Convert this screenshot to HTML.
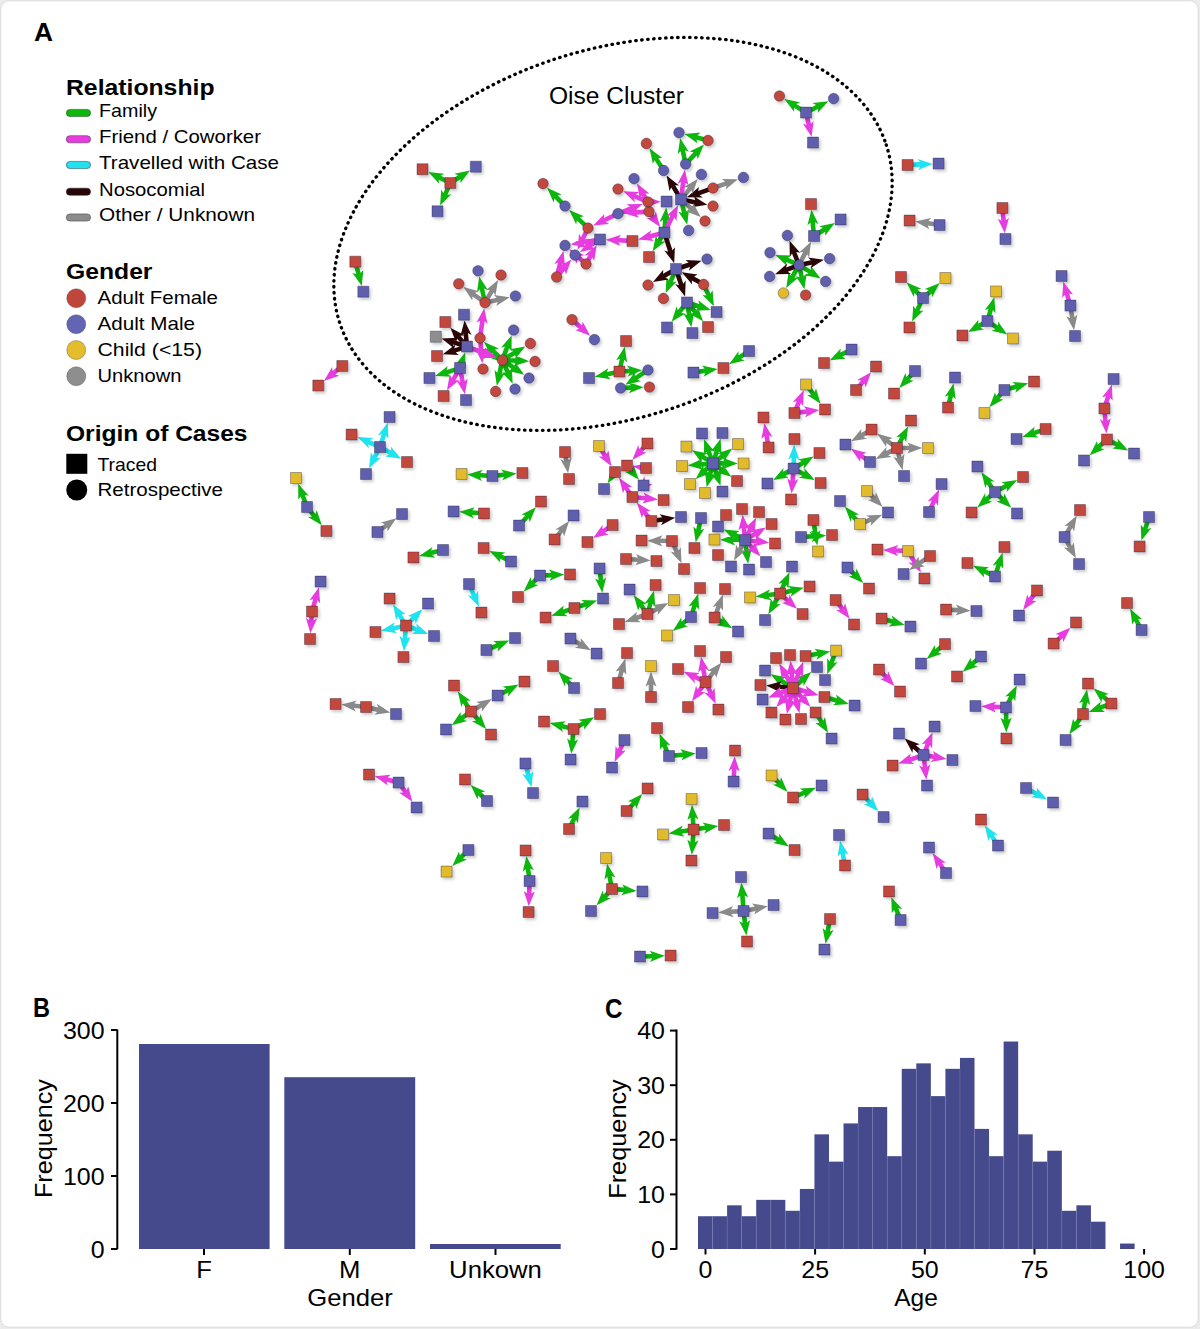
<!DOCTYPE html><html><head><meta charset="utf-8"><style>html,body{margin:0;padding:0;background:#fff;}svg{display:block;font-family:"Liberation Sans",sans-serif;}</style></head><body>
<svg width="1200" height="1329" viewBox="0 0 1200 1329">
<rect x="0" y="0" width="1200" height="1329" fill="#ececec"/>
<rect x="0.8" y="0.8" width="1197.4" height="1326.4" rx="8" fill="#fff" stroke="#dadada" stroke-width="1"/>
<text x="34" y="40.5" font-size="26" font-weight="bold" text-anchor="start" fill="#000" textLength="19" lengthAdjust="spacingAndGlyphs">A</text>
<text x="66" y="94.5" font-size="21.5" font-weight="bold" text-anchor="start" fill="#000" textLength="148.5" lengthAdjust="spacingAndGlyphs">Relationship</text>
<rect x="66.3" y="109.4" width="24.3" height="7.2" rx="3.6" fill="#0cb80c" stroke="#222" stroke-opacity="0.5" stroke-width="0.9"/>
<text x="99" y="116.9" font-size="19" text-anchor="start" fill="#000" textLength="58" lengthAdjust="spacingAndGlyphs">Family</text>
<rect x="66.3" y="135.65" width="24.3" height="7.2" rx="3.6" fill="#e83ce0" stroke="#222" stroke-opacity="0.5" stroke-width="0.9"/>
<text x="99" y="143.15" font-size="19" text-anchor="start" fill="#000" textLength="162" lengthAdjust="spacingAndGlyphs">Friend / Coworker</text>
<rect x="66.3" y="161.4" width="24.3" height="7.2" rx="3.6" fill="#22e0ee" stroke="#222" stroke-opacity="0.5" stroke-width="0.9"/>
<text x="99" y="168.9" font-size="19" text-anchor="start" fill="#000" textLength="180" lengthAdjust="spacingAndGlyphs">Travelled with Case</text>
<rect x="66.3" y="188.15" width="24.3" height="7.2" rx="3.6" fill="#2a0505" stroke="#222" stroke-opacity="0.5" stroke-width="0.9"/>
<text x="99" y="195.65" font-size="19" text-anchor="start" fill="#000" textLength="106" lengthAdjust="spacingAndGlyphs">Nosocomial</text>
<rect x="66.3" y="213.9" width="24.3" height="7.2" rx="3.6" fill="#8c8c8c" stroke="#222" stroke-opacity="0.5" stroke-width="0.9"/>
<text x="99" y="221.4" font-size="19" text-anchor="start" fill="#000" textLength="156" lengthAdjust="spacingAndGlyphs">Other / Unknown</text>
<text x="66" y="278.75" font-size="21.5" font-weight="bold" text-anchor="start" fill="#000" textLength="86.5" lengthAdjust="spacingAndGlyphs">Gender</text>
<circle cx="76.25" cy="298.25" r="9.5" fill="#c0463c" stroke="#444" stroke-opacity="0.45" stroke-width="0.8"/>
<text x="97.5" y="303.95" font-size="19" text-anchor="start" fill="#000" textLength="120.5" lengthAdjust="spacingAndGlyphs">Adult Female</text>
<circle cx="76.25" cy="324.25" r="9.5" fill="#6464b4" stroke="#444" stroke-opacity="0.45" stroke-width="0.8"/>
<text x="97.5" y="329.95" font-size="19" text-anchor="start" fill="#000" textLength="97.5" lengthAdjust="spacingAndGlyphs">Adult Male</text>
<circle cx="76.25" cy="350" r="9.5" fill="#e3bd2c" stroke="#444" stroke-opacity="0.45" stroke-width="0.8"/>
<text x="97.5" y="355.7" font-size="19" text-anchor="start" fill="#000" textLength="104.5" lengthAdjust="spacingAndGlyphs">Child (&lt;15)</text>
<circle cx="76.25" cy="376.25" r="9.5" fill="#8e8e8e" stroke="#444" stroke-opacity="0.45" stroke-width="0.8"/>
<text x="97.5" y="381.95" font-size="19" text-anchor="start" fill="#000" textLength="84" lengthAdjust="spacingAndGlyphs">Unknown</text>
<text x="66" y="440.5" font-size="21.5" font-weight="bold" text-anchor="start" fill="#000" textLength="181.5" lengthAdjust="spacingAndGlyphs">Origin of Cases</text>
<rect x="66.3" y="453.8" width="21" height="20" fill="#000"/>
<text x="97.5" y="470.5" font-size="18.5" text-anchor="start" fill="#000" textLength="59.5" lengthAdjust="spacingAndGlyphs">Traced</text>
<circle cx="76.75" cy="490" r="10.5" fill="#000"/>
<text x="97.5" y="496.25" font-size="18.5" text-anchor="start" fill="#000" textLength="125.5" lengthAdjust="spacingAndGlyphs">Retrospective</text>
<text x="33" y="1017" font-size="27.5" font-weight="bold" text-anchor="start" fill="#000" textLength="17" lengthAdjust="spacingAndGlyphs">B</text>
<path d="M117.3 1029.5 V1249.2" stroke="#000" stroke-width="2" fill="none"/>
<path d="M111 1249.0 H117.3" stroke="#000" stroke-width="2"/>
<text x="104.6" y="1257.6" font-size="24" text-anchor="end" fill="#000" textLength="13.88" lengthAdjust="spacingAndGlyphs">0</text>
<path d="M111 1176.0 H117.3" stroke="#000" stroke-width="2"/>
<text x="104.6" y="1184.6" font-size="24" text-anchor="end" fill="#000" textLength="41.64" lengthAdjust="spacingAndGlyphs">100</text>
<path d="M111 1103.0 H117.3" stroke="#000" stroke-width="2"/>
<text x="104.6" y="1111.6" font-size="24" text-anchor="end" fill="#000" textLength="41.64" lengthAdjust="spacingAndGlyphs">200</text>
<path d="M111 1030.0 H117.3" stroke="#000" stroke-width="2"/>
<text x="104.6" y="1038.6" font-size="24" text-anchor="end" fill="#000" textLength="41.64" lengthAdjust="spacingAndGlyphs">300</text>
<rect x="139" y="1044" width="130.6" height="205" fill="#454a8c"/>
<rect x="284.3" y="1077.2" width="130.9" height="171.8" fill="#454a8c"/>
<rect x="430" y="1244" width="130.7" height="5" fill="#454a8c"/>
<path d="M204 1249 V1255" stroke="#000" stroke-width="2"/>
<text x="204" y="1278" font-size="24" text-anchor="middle" fill="#000" textLength="15.69" lengthAdjust="spacingAndGlyphs">F</text>
<path d="M349.8 1249 V1255" stroke="#000" stroke-width="2"/>
<text x="349.8" y="1278" font-size="24" text-anchor="middle" fill="#000" textLength="21.39" lengthAdjust="spacingAndGlyphs">M</text>
<path d="M495.5 1249 V1255" stroke="#000" stroke-width="2"/>
<text x="495.5" y="1278" font-size="24" text-anchor="middle" fill="#000" textLength="92.78" lengthAdjust="spacingAndGlyphs">Unkown</text>
<text x="350" y="1306" font-size="24" text-anchor="middle" fill="#000" textLength="85.65" lengthAdjust="spacingAndGlyphs">Gender</text>
<text x="0" y="0" font-size="23.5" text-anchor="middle" textLength="119" lengthAdjust="spacingAndGlyphs" transform="translate(51.5 1138.6) rotate(-90)">Frequency</text>
<text x="605" y="1017.5" font-size="27.5" font-weight="bold" text-anchor="start" fill="#000" textLength="17.5" lengthAdjust="spacingAndGlyphs">C</text>
<path d="M676.5 1029.5 V1249.5" stroke="#000" stroke-width="2" fill="none"/>
<path d="M670 1249.0 H676.5" stroke="#000" stroke-width="2"/>
<text x="665" y="1257.6" font-size="24" text-anchor="end" fill="#000" textLength="13.88" lengthAdjust="spacingAndGlyphs">0</text>
<path d="M670 1194.4 H676.5" stroke="#000" stroke-width="2"/>
<text x="665" y="1203.0" font-size="24" text-anchor="end" fill="#000" textLength="27.76" lengthAdjust="spacingAndGlyphs">10</text>
<path d="M670 1139.8 H676.5" stroke="#000" stroke-width="2"/>
<text x="665" y="1148.3999999999999" font-size="24" text-anchor="end" fill="#000" textLength="27.76" lengthAdjust="spacingAndGlyphs">20</text>
<path d="M670 1085.2 H676.5" stroke="#000" stroke-width="2"/>
<text x="665" y="1093.8" font-size="24" text-anchor="end" fill="#000" textLength="27.76" lengthAdjust="spacingAndGlyphs">30</text>
<path d="M670 1030.6 H676.5" stroke="#000" stroke-width="2"/>
<text x="665" y="1039.1999999999998" font-size="24" text-anchor="end" fill="#000" textLength="27.76" lengthAdjust="spacingAndGlyphs">40</text>
<rect x="698.00" y="1216.24" width="14.55" height="32.76" fill="#454a8c"/>
<rect x="712.55" y="1216.24" width="14.55" height="32.76" fill="#454a8c"/>
<rect x="727.11" y="1205.32" width="14.55" height="43.68" fill="#454a8c"/>
<rect x="741.66" y="1216.24" width="14.55" height="32.76" fill="#454a8c"/>
<rect x="756.21" y="1199.86" width="14.55" height="49.14" fill="#454a8c"/>
<rect x="770.77" y="1199.86" width="14.55" height="49.14" fill="#454a8c"/>
<rect x="785.32" y="1210.78" width="14.55" height="38.22" fill="#454a8c"/>
<rect x="799.87" y="1188.94" width="14.55" height="60.06" fill="#454a8c"/>
<rect x="814.43" y="1134.34" width="14.55" height="114.66" fill="#454a8c"/>
<rect x="828.98" y="1161.64" width="14.55" height="87.36" fill="#454a8c"/>
<rect x="843.53" y="1123.42" width="14.55" height="125.58" fill="#454a8c"/>
<rect x="858.09" y="1107.04" width="14.55" height="141.96" fill="#454a8c"/>
<rect x="872.64" y="1107.04" width="14.55" height="141.96" fill="#454a8c"/>
<rect x="887.19" y="1156.18" width="14.55" height="92.82" fill="#454a8c"/>
<rect x="901.75" y="1068.82" width="14.55" height="180.18" fill="#454a8c"/>
<rect x="916.30" y="1063.36" width="14.55" height="185.64" fill="#454a8c"/>
<rect x="930.85" y="1096.12" width="14.55" height="152.88" fill="#454a8c"/>
<rect x="945.41" y="1068.82" width="14.55" height="180.18" fill="#454a8c"/>
<rect x="959.96" y="1057.90" width="14.55" height="191.10" fill="#454a8c"/>
<rect x="974.51" y="1128.88" width="14.55" height="120.12" fill="#454a8c"/>
<rect x="989.07" y="1156.18" width="14.55" height="92.82" fill="#454a8c"/>
<rect x="1003.62" y="1041.52" width="14.55" height="207.48" fill="#454a8c"/>
<rect x="1018.17" y="1134.34" width="14.55" height="114.66" fill="#454a8c"/>
<rect x="1032.73" y="1161.64" width="14.55" height="87.36" fill="#454a8c"/>
<rect x="1047.28" y="1150.72" width="14.55" height="98.28" fill="#454a8c"/>
<rect x="1061.83" y="1210.78" width="14.55" height="38.22" fill="#454a8c"/>
<rect x="1076.39" y="1205.32" width="14.55" height="43.68" fill="#454a8c"/>
<rect x="1090.94" y="1221.70" width="14.55" height="27.30" fill="#454a8c"/>
<rect x="1120.05" y="1243.54" width="14.55" height="5.46" fill="#454a8c"/>
<path d="M712.55 1216.24 V1249" stroke="#7a7fb8" stroke-width="0.6" stroke-opacity="0.6"/>
<path d="M727.11 1216.24 V1249" stroke="#7a7fb8" stroke-width="0.6" stroke-opacity="0.6"/>
<path d="M741.66 1216.24 V1249" stroke="#7a7fb8" stroke-width="0.6" stroke-opacity="0.6"/>
<path d="M756.21 1216.24 V1249" stroke="#7a7fb8" stroke-width="0.6" stroke-opacity="0.6"/>
<path d="M770.77 1199.86 V1249" stroke="#7a7fb8" stroke-width="0.6" stroke-opacity="0.6"/>
<path d="M785.32 1210.78 V1249" stroke="#7a7fb8" stroke-width="0.6" stroke-opacity="0.6"/>
<path d="M799.87 1210.78 V1249" stroke="#7a7fb8" stroke-width="0.6" stroke-opacity="0.6"/>
<path d="M814.43 1188.94 V1249" stroke="#7a7fb8" stroke-width="0.6" stroke-opacity="0.6"/>
<path d="M828.98 1161.64 V1249" stroke="#7a7fb8" stroke-width="0.6" stroke-opacity="0.6"/>
<path d="M843.53 1161.64 V1249" stroke="#7a7fb8" stroke-width="0.6" stroke-opacity="0.6"/>
<path d="M858.09 1123.42 V1249" stroke="#7a7fb8" stroke-width="0.6" stroke-opacity="0.6"/>
<path d="M872.64 1107.04 V1249" stroke="#7a7fb8" stroke-width="0.6" stroke-opacity="0.6"/>
<path d="M887.19 1156.18 V1249" stroke="#7a7fb8" stroke-width="0.6" stroke-opacity="0.6"/>
<path d="M901.75 1156.18 V1249" stroke="#7a7fb8" stroke-width="0.6" stroke-opacity="0.6"/>
<path d="M916.30 1068.82 V1249" stroke="#7a7fb8" stroke-width="0.6" stroke-opacity="0.6"/>
<path d="M930.85 1096.12 V1249" stroke="#7a7fb8" stroke-width="0.6" stroke-opacity="0.6"/>
<path d="M945.41 1096.12 V1249" stroke="#7a7fb8" stroke-width="0.6" stroke-opacity="0.6"/>
<path d="M959.96 1068.82 V1249" stroke="#7a7fb8" stroke-width="0.6" stroke-opacity="0.6"/>
<path d="M974.51 1128.88 V1249" stroke="#7a7fb8" stroke-width="0.6" stroke-opacity="0.6"/>
<path d="M989.07 1156.18 V1249" stroke="#7a7fb8" stroke-width="0.6" stroke-opacity="0.6"/>
<path d="M1003.62 1156.18 V1249" stroke="#7a7fb8" stroke-width="0.6" stroke-opacity="0.6"/>
<path d="M1018.17 1134.34 V1249" stroke="#7a7fb8" stroke-width="0.6" stroke-opacity="0.6"/>
<path d="M1032.73 1161.64 V1249" stroke="#7a7fb8" stroke-width="0.6" stroke-opacity="0.6"/>
<path d="M1047.28 1161.64 V1249" stroke="#7a7fb8" stroke-width="0.6" stroke-opacity="0.6"/>
<path d="M1061.83 1210.78 V1249" stroke="#7a7fb8" stroke-width="0.6" stroke-opacity="0.6"/>
<path d="M1076.39 1210.78 V1249" stroke="#7a7fb8" stroke-width="0.6" stroke-opacity="0.6"/>
<path d="M1090.94 1221.70 V1249" stroke="#7a7fb8" stroke-width="0.6" stroke-opacity="0.6"/>
<path d="M705.5 1249 V1254.5" stroke="#000" stroke-width="2"/>
<text x="705.5" y="1278" font-size="24" text-anchor="middle" fill="#000" textLength="13.88" lengthAdjust="spacingAndGlyphs">0</text>
<path d="M815.1 1249 V1254.5" stroke="#000" stroke-width="2"/>
<text x="815.15" y="1278" font-size="24" text-anchor="middle" fill="#000" textLength="27.76" lengthAdjust="spacingAndGlyphs">25</text>
<path d="M924.8 1249 V1254.5" stroke="#000" stroke-width="2"/>
<text x="924.8" y="1278" font-size="24" text-anchor="middle" fill="#000" textLength="27.76" lengthAdjust="spacingAndGlyphs">50</text>
<path d="M1034.5 1249 V1254.5" stroke="#000" stroke-width="2"/>
<text x="1034.45" y="1278" font-size="24" text-anchor="middle" fill="#000" textLength="27.76" lengthAdjust="spacingAndGlyphs">75</text>
<path d="M1144.1 1249 V1254.5" stroke="#000" stroke-width="2"/>
<text x="1144.1" y="1278" font-size="24" text-anchor="middle" fill="#000" textLength="41.64" lengthAdjust="spacingAndGlyphs">100</text>
<text x="916" y="1305.5" font-size="24" text-anchor="middle" fill="#000" textLength="43.56" lengthAdjust="spacingAndGlyphs">Age</text>
<text x="0" y="0" font-size="23.5" text-anchor="middle" textLength="119.5" lengthAdjust="spacingAndGlyphs" transform="translate(626 1139) rotate(-90)">Frequency</text>
<defs><filter id="sh" x="-50%" y="-50%" width="200%" height="200%"><feDropShadow dx="1.8" dy="2.2" stdDeviation="1.8" flood-color="#000" flood-opacity="0.22"/></filter></defs>
<ellipse cx="613" cy="233.9" rx="287.4" ry="184.2" transform="rotate(-18.05 613 233.9)" fill="none" stroke="#000" stroke-width="3.3" stroke-dasharray="0.5 5.5" stroke-linecap="round"/>
<g>
<path d="M428.3 172.1 L444.2 173.7 L440.8 175.7 L449.7 180.1 L447.6 184.2 L438.7 179.8 L439.2 183.7Z M470.0 170.4 L460.4 183.2 L460.5 179.2 L453.2 183.9 L450.7 180.0 L458.0 175.3 L454.4 173.7Z M440.1 205.5 L441.2 189.6 L443.3 192.9 L447.5 183.7 L451.6 185.6 L447.5 194.8 L451.4 194.2Z M361.8 285.9 L352.5 272.9 L356.2 274.1 L353.5 263.9 L358.0 262.8 L360.7 272.9 L363.3 270.0Z M684.6 134.1 L700.5 132.6 L697.6 135.2 L707.0 137.8 L705.8 142.2 L696.4 139.7 L697.6 143.4Z M680.2 138.3 L688.8 151.8 L685.1 150.3 L687.5 161.9 L683.0 162.9 L680.6 151.3 L677.8 154.1Z M704.0 144.6 L697.7 159.3 L696.9 155.5 L688.4 164.4 L685.1 161.2 L693.5 152.3 L689.6 151.6Z M649.5 148.3 L662.3 157.9 L658.3 157.9 L664.7 167.8 L660.8 170.2 L654.5 160.3 L652.9 164.0Z M687.2 224.8 L678.2 211.5 L681.9 212.9 L679.2 201.6 L683.6 200.5 L686.4 211.8 L689.1 208.9Z M547.1 187.7 L561.6 194.5 L557.7 195.3 L565.5 203.2 L562.2 206.4 L554.4 198.5 L553.6 202.4Z M569.2 210.0 L583.9 216.3 L580.0 217.2 L588.4 225.2 L585.2 228.5 L576.9 220.5 L576.2 224.4Z M666.2 207.4 L670.7 222.8 L667.6 220.3 L666.8 231.1 L662.2 230.8 L663.0 220.0 L659.5 222.0Z M652.6 251.2 L655.9 235.6 L657.5 239.2 L661.4 233.0 L665.3 235.5 L661.4 241.6 L665.4 241.6Z M784.3 99.1 L800.0 102.3 L796.4 103.9 L805.6 109.6 L803.1 113.5 L794.0 107.8 L794.1 111.8Z M828.4 101.2 L817.6 113.0 L818.1 109.1 L808.7 113.8 L806.6 109.7 L816.0 105.0 L812.5 103.0Z M811.5 209.8 L818.5 224.2 L815.0 222.3 L816.1 234.1 L811.6 234.6 L810.4 222.8 L807.4 225.3Z M834.8 223.0 L825.1 235.7 L825.2 231.7 L816.9 236.9 L814.4 233.0 L822.8 227.8 L819.2 226.2Z M775.3 254.9 L791.3 255.6 L788.0 257.8 L798.4 262.2 L796.6 266.5 L786.2 262.0 L786.9 265.9Z M820.7 278.4 L805.0 275.3 L808.6 273.6 L799.2 267.8 L801.6 263.9 L811.0 269.7 L810.8 265.7Z M786.2 287.9 L788.6 272.1 L790.4 275.6 L796.2 265.3 L800.2 267.6 L794.5 277.9 L798.4 277.6Z M804.4 289.3 L795.7 275.9 L799.4 277.3 L797.1 267.1 L801.6 266.1 L803.8 276.3 L806.6 273.5Z M906.7 282.5 L921.4 288.8 L917.6 289.6 L922.9 294.8 L919.8 298.1 L914.4 293.0 L913.7 296.9Z M939.7 283.1 L932.2 297.3 L931.7 293.4 L926.2 298.2 L923.1 294.8 L928.6 289.9 L924.8 288.9Z M994.3 297.2 L995.5 313.2 L993.0 310.1 L990.1 320.0 L985.7 318.7 L988.5 308.8 L984.8 310.0Z M968.2 332.1 L978.4 319.7 L978.1 323.7 L984.6 320.0 L986.9 323.9 L980.4 327.7 L984.0 329.4Z M1007.3 334.5 L991.7 330.7 L995.4 329.2 L987.8 324.0 L990.3 320.2 L998.0 325.4 L998.0 321.4Z M1028.2 383.2 L1015.3 392.7 L1016.5 388.9 L1006.7 391.7 L1005.4 387.3 L1015.3 384.5 L1012.3 382.0Z M989.4 407.3 L995.0 392.3 L996.0 396.1 L1001.2 390.1 L1004.7 393.2 L999.5 399.1 L1003.4 399.6Z M479.2 276.5 L487.9 289.9 L484.2 288.5 L486.9 300.5 L482.4 301.5 L479.8 289.5 L477.0 292.3Z M511.6 335.4 L511.6 351.4 L509.2 348.2 L505.1 359.3 L500.8 357.6 L504.9 346.6 L501.1 347.5Z M525.4 346.4 L515.4 358.8 L515.6 354.9 L505.0 361.1 L502.6 357.2 L513.2 350.9 L509.7 349.2Z M529.2 361.2 L514.0 366.1 L516.3 362.9 L503.9 362.4 L504.1 357.8 L516.5 358.3 L514.5 354.9Z M524.2 374.7 L508.6 371.0 L512.3 369.5 L502.5 362.8 L505.1 359.0 L514.9 365.7 L514.9 361.7Z M512.7 383.7 L501.6 372.2 L505.5 372.9 L500.9 362.4 L505.2 360.6 L509.7 371.0 L511.8 367.7Z M496.8 385.7 L494.5 369.9 L497.3 372.7 L499.8 361.1 L504.3 362.1 L501.8 373.7 L505.5 372.3Z M484.1 342.1 L498.8 348.6 L494.9 349.4 L502.8 357.2 L499.6 360.5 L491.7 352.7 L490.9 356.6Z M472.8 348.8 L488.8 348.9 L485.6 351.2 L501.7 357.3 L500.0 361.6 L483.9 355.5 L484.8 359.3Z M435.2 376.1 L447.7 366.1 L446.6 369.9 L457.6 366.4 L459.1 370.7 L448.1 374.3 L451.2 376.8Z M465.1 352.4 L465.8 368.4 L463.3 365.3 L462.7 367.1 L458.4 365.6 L458.9 363.8 L455.1 364.9Z M624.8 346.8 L627.1 362.6 L624.3 359.8 L622.0 370.4 L617.5 369.5 L619.8 358.8 L616.1 360.3Z M594.8 376.8 L608.3 368.2 L606.8 371.9 L617.3 369.7 L618.2 374.2 L607.8 376.4 L610.6 379.2Z M467.4 474.4 L482.7 469.8 L480.3 472.9 L490.9 473.6 L490.6 478.2 L480.0 477.5 L482.0 480.9Z M516.6 473.6 L502.2 480.6 L504.1 477.1 L494.3 478.1 L493.8 473.5 L503.6 472.6 L501.1 469.5Z M665.7 293.1 L666.4 277.1 L668.6 280.4 L673.2 269.7 L677.4 271.6 L672.8 282.2 L676.7 281.5Z M713.9 306.2 L702.4 295.0 L706.3 295.6 L702.2 286.9 L706.4 284.9 L710.5 293.7 L712.6 290.3Z M671.6 321.7 L676.6 306.5 L677.8 310.2 L683.9 302.6 L687.5 305.5 L681.4 313.1 L685.3 313.5Z M691.4 327.2 L683.3 313.4 L686.9 315.0 L685.0 304.4 L689.6 303.7 L691.4 314.2 L694.3 311.5Z M703.1 321.3 L689.1 313.5 L693.1 313.0 L686.7 305.5 L690.2 302.6 L696.5 310.0 L697.6 306.2Z M710.8 310.1 L694.8 310.8 L697.9 308.4 L687.9 305.1 L689.4 300.7 L699.3 304.0 L698.3 300.2Z M642.2 370.3 L627.5 376.8 L629.6 373.3 L621.2 373.8 L620.9 369.2 L629.3 368.7 L626.9 365.6Z M643.6 387.2 L628.8 393.3 L630.9 389.9 L622.3 390.2 L622.2 385.6 L630.7 385.3 L628.4 382.1Z M625.4 384.8 L634.9 371.9 L634.9 375.9 L645.4 369.0 L647.9 372.8 L637.4 379.7 L641.1 381.3Z M717.6 368.9 L703.6 376.7 L705.3 373.1 L695.4 374.6 L694.7 370.1 L704.6 368.6 L701.9 365.6Z M729.1 364.2 L738.5 351.2 L738.5 355.2 L746.1 350.2 L748.6 354.0 L741.1 359.0 L744.7 360.5Z M820.6 403.7 L807.1 395.1 L811.1 394.9 L805.4 387.4 L809.1 384.7 L814.7 392.1 L816.0 388.3Z M813.6 456.5 L803.7 469.0 L803.9 465.1 L796.4 469.6 L794.1 465.6 L801.5 461.1 L797.9 459.4Z M704.1 439.2 L714.5 451.3 L710.7 450.4 L714.6 461.0 L710.2 462.5 L706.4 452.0 L704.0 455.2Z M720.6 438.8 L721.5 454.8 L719.0 451.7 L715.7 462.4 L711.3 461.1 L714.6 450.3 L710.8 451.5Z M692.2 450.2 L707.8 453.5 L704.2 455.1 L712.6 460.4 L710.1 464.3 L701.7 459.0 L701.8 463.0Z M732.3 448.5 L723.8 462.1 L723.6 458.1 L716.1 463.9 L713.2 460.3 L720.7 454.5 L717.0 453.2Z M687.8 465.5 L702.3 458.7 L700.4 462.2 L711.2 461.2 L711.5 465.8 L700.7 466.7 L703.2 469.8Z M737.8 463.4 L722.8 469.0 L725.0 465.7 L714.6 465.7 L714.6 461.1 L725.0 461.1 L722.8 457.8Z M912.1 321.6 L913.3 305.7 L915.4 309.0 L920.1 298.7 L924.3 300.6 L919.5 311.0 L923.5 310.4Z M829.8 360.2 L840.8 348.6 L840.3 352.5 L848.9 348.3 L851.0 352.5 L842.3 356.7 L845.7 358.7Z M899.3 387.9 L905.4 373.1 L906.3 376.9 L911.8 371.1 L915.2 374.2 L909.7 380.1 L913.6 380.7Z M953.6 383.4 L955.7 399.3 L953.0 396.4 L950.6 406.5 L946.1 405.4 L948.5 395.3 L944.8 396.7Z M1022.4 437.0 L1034.7 426.8 L1033.7 430.7 L1043.2 427.4 L1044.7 431.7 L1035.2 435.0 L1038.4 437.4Z M908.1 426.4 L906.2 442.3 L904.3 438.8 L899.9 447.4 L895.8 445.3 L900.2 436.7 L896.2 437.2Z M1089.7 455.2 L1097.0 440.9 L1097.6 444.8 L1103.8 439.2 L1106.9 442.6 L1100.7 448.2 L1104.6 449.2Z M1128.2 450.6 L1112.4 448.5 L1115.8 446.6 L1107.6 442.3 L1109.7 438.2 L1118.0 442.6 L1117.6 438.6Z M981.4 472.3 L994.5 481.5 L990.6 481.6 L995.7 489.0 L992.0 491.7 L986.8 484.2 L985.3 487.9Z M1017.2 480.1 L1006.7 492.1 L1007.0 488.2 L997.7 493.1 L995.6 489.1 L1004.9 484.1 L1001.4 482.2Z M977.3 507.4 L985.0 493.3 L985.5 497.3 L991.8 491.7 L994.9 495.2 L988.5 500.7 L992.3 501.8Z M1011.3 507.8 L996.6 501.4 L1000.5 500.6 L995.0 495.3 L998.3 492.0 L1003.7 497.3 L1004.4 493.4Z M1141.4 540.6 L1140.7 524.6 L1143.2 527.7 L1146.3 517.9 L1150.7 519.4 L1147.5 529.1 L1151.4 528.0Z M1002.6 552.8 L1003.3 568.8 L1000.8 565.7 L997.7 575.5 L993.3 574.0 L996.5 564.3 L992.6 565.4Z M973.2 565.8 L989.1 567.3 L985.7 569.3 L994.4 573.5 L992.3 577.7 L983.7 573.5 L984.2 577.4Z M1130.1 608.8 L1142.2 619.3 L1138.2 618.9 L1142.7 627.3 L1138.7 629.4 L1134.2 621.1 L1132.3 624.6Z M298.2 483.8 L308.7 495.8 L304.9 494.9 L308.5 504.5 L304.2 506.2 L300.6 496.6 L298.3 499.8Z M321.8 525.3 L308.0 517.1 L311.9 516.8 L306.5 510.1 L310.1 507.2 L315.5 513.9 L316.7 510.1Z M459.4 511.8 L474.7 507.2 L472.3 510.3 L482.5 511.0 L482.2 515.6 L472.0 514.9 L474.0 518.4Z M419.2 556.0 L432.4 546.9 L431.1 550.6 L440.8 548.2 L441.9 552.6 L432.2 555.1 L435.1 557.7Z M489.4 550.9 L505.3 552.5 L501.9 554.5 L510.4 558.7 L508.3 562.8 L499.8 558.6 L500.3 562.5Z M607.7 483.2 L611.2 467.6 L612.7 471.3 L612.0 472.4 L615.9 474.9 L616.6 473.8 L620.6 473.7Z M638.8 479.7 L624.9 471.8 L628.8 471.3 L626.6 468.7 L630.1 465.8 L632.3 468.4 L633.5 464.6Z M695.7 478.9 L703.2 464.7 L703.7 468.6 L709.8 463.2 L712.9 466.6 L706.8 472.0 L710.6 473.0Z M706.6 487.2 L705.1 471.3 L707.7 474.3 L710.3 464.4 L714.8 465.7 L712.1 475.5 L715.9 474.2Z M720.5 485.8 L710.4 473.4 L714.2 474.4 L711.4 465.8 L715.7 464.3 L718.6 472.9 L721.0 469.8Z M731.3 476.8 L715.9 472.4 L719.6 471.1 L713.3 466.5 L716.0 462.8 L722.3 467.4 L722.5 463.4Z M535.8 507.3 L529.7 522.2 L528.8 518.3 L522.2 525.5 L518.8 522.4 L525.4 515.2 L521.5 514.6Z M695.7 542.2 L693.4 526.4 L696.2 529.2 L698.4 519.2 L702.9 520.1 L700.7 530.2 L704.4 528.8Z M564.2 574.6 L549.4 580.8 L551.5 577.4 L541.7 577.8 L541.6 573.2 L551.3 572.8 L549.0 569.6Z M523.7 591.4 L530.6 577.0 L531.3 580.9 L536.7 575.6 L540.0 578.9 L534.5 584.2 L538.4 585.0Z M602.3 592.8 L595.1 578.5 L598.6 580.3 L597.5 570.3 L602.1 569.8 L603.2 579.8 L606.2 577.3Z M551.4 615.7 L563.8 605.6 L562.8 609.4 L572.0 606.4 L573.5 610.7 L564.3 613.8 L567.4 616.2Z M597.2 600.5 L584.7 610.5 L585.8 606.7 L576.8 609.6 L575.3 605.3 L584.3 602.3 L581.2 599.9Z M633.8 595.3 L647.2 604.2 L643.2 604.3 L648.1 611.0 L644.3 613.7 L639.5 607.0 L638.1 610.8Z M654.0 590.8 L655.3 606.7 L652.7 603.7 L650.1 613.0 L645.7 611.7 L648.3 602.5 L644.5 603.7Z M698.2 593.8 L699.1 609.8 L696.6 606.7 L693.7 616.0 L689.3 614.7 L692.2 605.3 L688.4 606.5Z M672.7 631.0 L681.2 617.4 L681.5 621.4 L688.0 616.4 L690.7 620.1 L684.3 625.0 L688.0 626.3Z M732.2 628.2 L716.5 625.3 L720.1 623.6 L715.1 620.6 L717.4 616.6 L722.4 619.6 L722.2 615.6Z M813.6 456.5 L803.7 469.0 L803.9 465.1 L796.4 469.6 L794.1 465.6 L801.5 461.1 L797.9 459.4Z M773.2 480.1 L783.5 467.9 L783.2 471.8 L790.8 467.5 L793.1 471.5 L785.4 475.9 L789.0 477.6Z M814.8 479.9 L799.0 477.8 L802.5 475.9 L794.2 471.5 L796.3 467.5 L804.6 471.9 L804.2 467.9Z M845.0 506.7 L859.0 514.4 L855.1 514.9 L860.3 520.8 L856.8 523.9 L851.6 517.9 L850.6 521.7Z M723.8 529.5 L739.7 531.1 L736.3 533.1 L744.4 537.1 L742.3 541.2 L734.2 537.2 L734.7 541.1Z M748.2 563.8 L740.7 549.7 L744.2 551.4 L742.9 542.0 L747.5 541.3 L748.8 550.8 L751.8 548.2Z M720.2 539.7 L735.3 534.3 L733.0 537.5 L743.4 537.7 L743.3 542.3 L733.0 542.1 L735.1 545.5Z M817.2 545.6 L809.4 531.6 L813.0 533.3 L811.4 522.0 L815.9 521.3 L817.6 532.6 L820.5 529.9Z M826.2 535.4 L811.6 541.9 L813.6 538.5 L802.8 539.2 L802.5 534.6 L813.3 533.9 L810.9 530.8Z M863.3 583.0 L848.7 576.5 L852.5 575.7 L847.4 570.7 L850.7 567.4 L855.8 572.4 L856.5 568.5Z M789.4 572.4 L788.5 588.4 L786.3 585.0 L782.8 592.9 L778.6 591.0 L782.1 583.1 L778.2 583.8Z M803.8 587.8 L790.6 596.8 L791.9 593.1 L782.2 595.4 L781.1 591.0 L790.8 588.6 L787.9 585.9Z M755.8 596.7 L770.0 589.2 L768.2 592.8 L778.1 591.5 L778.6 596.1 L768.8 597.3 L771.4 600.3Z M768.3 614.2 L770.8 598.4 L772.6 602.0 L777.1 594.1 L781.1 596.4 L776.6 604.2 L780.6 604.0Z M904.6 625.0 L888.7 626.4 L891.7 623.8 L882.6 621.3 L883.9 616.8 L892.9 619.3 L891.7 615.6Z M830.2 651.6 L816.4 659.8 L818.0 656.1 L807.7 658.0 L806.8 653.4 L817.2 651.6 L814.5 648.7Z M926.7 658.9 L934.8 645.1 L935.2 649.0 L941.9 643.6 L944.8 647.1 L938.1 652.6 L941.9 653.8Z M962.7 671.7 L970.7 657.8 L971.1 661.8 L977.9 656.2 L980.8 659.7 L974.1 665.3 L977.9 666.4Z M1016.8 685.4 L1015.2 701.3 L1013.2 697.9 L1008.9 706.8 L1004.7 704.7 L1009.1 695.9 L1005.2 696.4Z M1006.3 732.6 L1000.5 717.7 L1003.9 719.8 L1003.7 709.1 L1008.3 709.0 L1008.5 719.8 L1011.7 717.5Z M1087.0 689.4 L1090.1 705.1 L1087.2 702.4 L1085.5 712.7 L1081.0 712.0 L1082.7 701.7 L1079.1 703.3Z M1093.7 688.5 L1108.8 694.0 L1105.0 695.1 L1111.2 700.4 L1108.3 703.9 L1102.0 698.6 L1101.5 702.5Z M1088.8 711.9 L1100.9 701.5 L1100.0 705.3 L1109.0 702.0 L1110.5 706.4 L1101.6 709.6 L1104.8 712.0Z M1069.4 734.3 L1073.1 718.7 L1074.7 722.3 L1080.0 714.4 L1083.8 716.9 L1078.5 724.9 L1082.4 724.9Z M770.8 674.2 L786.5 677.3 L782.8 679.0 L792.6 685.0 L790.1 688.9 L780.4 682.9 L780.5 686.8Z M811.3 672.0 L803.7 686.1 L803.2 682.2 L796.2 688.3 L793.1 684.8 L800.1 678.7 L796.3 677.7Z M827.2 674.2 L827.2 658.2 L829.5 661.4 L833.2 651.4 L837.5 653.1 L833.8 663.0 L837.7 662.1Z M830.2 651.6 L816.4 659.8 L818.0 656.1 L807.7 658.0 L806.8 653.4 L817.2 651.6 L814.5 648.7Z M848.8 704.0 L832.9 705.2 L835.9 702.7 L825.4 699.7 L826.7 695.3 L837.1 698.2 L835.9 694.5Z M828.1 732.8 L815.5 723.0 L819.5 723.1 L814.6 715.2 L818.6 712.9 L823.4 720.7 L825.0 717.1Z M787.4 791.7 L773.0 784.8 L776.9 784.1 L771.6 778.7 L774.9 775.4 L780.2 780.9 L781.0 777.0Z M815.8 787.8 L804.2 798.8 L804.9 794.9 L795.5 798.8 L793.8 794.6 L803.1 790.7 L799.8 788.5Z M788.8 846.4 L773.2 843.1 L776.8 841.5 L769.0 836.6 L771.5 832.7 L779.2 837.6 L779.1 833.6Z M509.2 640.4 L497.6 651.4 L498.3 647.5 L488.9 651.4 L487.2 647.2 L496.5 643.3 L493.2 641.1Z M558.5 671.7 L572.9 678.7 L569.0 679.4 L574.1 684.8 L570.8 687.9 L565.6 682.6 L564.8 686.4Z M518.6 684.6 L507.9 696.5 L508.4 692.6 L500.3 696.8 L498.2 692.7 L506.2 688.5 L502.7 686.6Z M549.8 723.0 L565.7 721.3 L562.8 723.9 L572.5 726.4 L571.4 730.8 L561.7 728.4 L563.0 732.1Z M594.2 717.3 L584.0 729.6 L584.2 725.6 L576.4 730.1 L574.1 726.1 L582.0 721.6 L578.4 719.8Z M571.2 753.8 L567.1 738.3 L570.1 740.8 L571.1 730.4 L575.7 730.9 L574.7 741.3 L578.2 739.4Z M659.5 733.8 L670.5 745.4 L666.6 744.6 L670.4 753.4 L666.2 755.3 L662.4 746.4 L660.2 749.8Z M695.8 753.5 L681.4 760.5 L683.3 757.0 L670.9 758.1 L670.4 753.6 L682.8 752.4 L680.4 749.3Z M579.6 807.4 L578.0 823.3 L576.0 819.9 L571.9 828.4 L567.7 826.3 L571.9 817.9 L568.0 818.4Z M642.3 794.1 L636.2 808.9 L635.3 805.1 L629.8 810.9 L626.4 807.8 L631.9 801.9 L628.0 801.3Z M692.0 804.8 L698.5 819.4 L695.1 817.4 L695.8 827.8 L691.2 828.1 L690.5 817.7 L687.4 820.1Z M668.8 833.5 L682.7 825.6 L681.1 829.2 L691.6 827.6 L692.3 832.1 L681.8 833.8 L684.5 836.7Z M691.8 854.8 L687.3 839.4 L690.4 841.9 L691.2 831.1 L695.8 831.4 L695.0 842.2 L698.5 840.2Z M718.2 825.9 L704.2 833.7 L705.9 830.1 L695.6 831.6 L694.9 827.1 L705.2 825.5 L702.5 822.6Z M526.4 856.2 L533.9 870.3 L530.3 868.6 L531.7 879.1 L527.1 879.6 L525.7 869.2 L522.7 871.8Z M457.8 691.4 L470.7 700.8 L466.8 700.8 L471.8 708.5 L468.0 711.0 L462.9 703.3 L461.4 707.0Z M451.7 725.3 L460.6 712.0 L460.8 715.9 L468.0 710.7 L470.7 714.5 L463.5 719.7 L467.2 721.0Z M486.1 728.9 L472.0 721.2 L476.0 720.7 L470.7 714.6 L474.2 711.5 L479.4 717.7 L480.5 713.9Z M470.7 785.0 L485.3 791.5 L481.5 792.3 L487.0 797.7 L483.7 801.0 L478.2 795.6 L477.5 799.5Z M452.3 865.9 L459.0 851.4 L459.8 855.3 L465.1 850.0 L468.4 853.3 L463.0 858.6 L466.9 859.4Z M607.1 863.8 L615.5 877.5 L611.8 875.9 L613.9 886.9 L609.4 887.8 L607.3 876.8 L604.5 879.6Z M636.6 890.9 L621.2 895.3 L623.7 892.2 L613.5 891.4 L613.8 886.8 L624.0 887.6 L622.1 884.2Z M596.5 905.3 L602.8 890.6 L603.6 894.4 L608.8 889.1 L612.1 892.2 L607.0 897.6 L610.9 898.3Z M741.4 882.8 L748.2 897.3 L744.7 895.4 L745.8 909.2 L741.2 909.5 L740.1 895.7 L737.0 898.2Z M746.4 935.6 L739.1 921.3 L742.6 923.1 L741.5 912.9 L746.1 912.4 L747.2 922.6 L750.2 920.1Z M825.5 943.8 L822.7 928.0 L825.5 930.8 L827.4 920.2 L832.0 921.1 L830.0 931.6 L833.7 930.1Z M664.8 955.8 L650.0 961.9 L652.1 958.5 L641.7 958.8 L641.6 954.2 L651.9 953.9 L649.6 950.7Z M891.3 897.2 L902.2 909.0 L898.3 908.2 L902.1 917.5 L897.8 919.2 L894.0 909.9 L891.8 913.2Z" fill="#0cb60c"/>
<path d="M666.6 175.4 L679.1 185.4 L675.1 185.2 L682.0 196.6 L678.0 198.9 L671.2 187.5 L669.5 191.1Z M686.8 197.3 L699.0 187.0 L698.1 190.9 L710.7 186.4 L712.2 190.7 L699.6 195.2 L702.8 197.6Z M707.3 204.8 L691.5 207.3 L694.3 204.5 L682.2 202.0 L683.1 197.5 L695.2 200.0 L693.8 196.3Z M789.5 240.8 L800.2 252.7 L796.3 251.9 L800.5 262.6 L796.3 264.3 L792.0 253.6 L789.8 256.8Z M823.9 259.8 L810.4 268.3 L811.9 264.7 L801.1 266.9 L800.1 262.4 L810.9 260.2 L808.1 257.4Z M775.0 274.3 L787.0 263.7 L786.1 267.5 L796.6 263.5 L798.3 267.7 L787.8 271.8 L791.0 274.1Z M464.5 320.5 L471.5 334.9 L468.0 333.0 L469.1 344.7 L464.6 345.2 L463.5 333.5 L460.4 336.0Z M450.4 327.7 L464.5 335.3 L460.5 335.8 L467.3 343.4 L463.8 346.5 L457.1 338.8 L456.1 342.7Z M441.6 338.5 L457.6 337.7 L454.5 340.2 L466.0 343.9 L464.7 348.3 L453.1 344.6 L454.2 348.4Z M442.8 354.2 L455.4 344.4 L454.3 348.2 L464.7 344.9 L466.0 349.3 L455.7 352.6 L458.8 355.0Z M674.2 263.2 L664.3 250.6 L668.1 251.7 L662.7 234.9 L667.1 233.6 L672.5 250.3 L674.9 247.2Z M653.0 282.1 L663.3 269.8 L663.0 273.8 L673.2 267.9 L675.5 271.9 L665.3 277.8 L668.8 279.5Z M701.5 260.8 L688.9 270.7 L690.0 266.9 L678.4 270.7 L676.9 266.3 L688.6 262.5 L685.5 260.1Z M681.8 272.2 L697.6 274.6 L694.1 276.4 L703.3 281.6 L701.0 285.6 L691.8 280.5 L692.1 284.4Z M685.1 296.6 L675.1 284.1 L678.9 285.2 L674.4 271.4 L678.7 269.9 L683.3 283.7 L685.7 280.6Z M675.2 517.8 L661.1 525.3 L662.8 521.8 L653.4 523.1 L652.7 518.5 L662.2 517.2 L659.6 514.2Z M766.2 685.5 L781.6 681.3 L779.2 684.4 L791.6 685.6 L791.1 690.1 L778.7 689.0 L780.6 692.5Z M904.7 738.6 L919.7 744.2 L915.9 745.2 L923.5 751.8 L920.4 755.3 L912.9 748.7 L912.4 752.7Z" fill="#2a0606"/>
<path d="M684.9 169.8 L688.5 185.3 L685.5 182.7 L683.5 198.0 L678.9 197.5 L680.9 182.1 L677.4 183.9Z M623.3 191.3 L639.3 192.1 L636.0 194.3 L647.4 199.2 L645.6 203.5 L634.2 198.5 L634.9 202.4Z M637.0 183.6 L649.5 193.6 L645.5 193.4 L649.1 199.4 L645.2 201.8 L641.6 195.7 L639.9 199.3Z M660.8 201.7 L645.9 207.6 L648.1 204.3 L649.7 204.3 L649.6 199.7 L648.0 199.7 L645.7 196.4Z M623.8 213.2 L638.4 206.7 L636.4 210.1 L647.2 209.4 L647.5 214.0 L636.7 214.7 L639.1 217.8Z M593.2 225.5 L604.3 214.0 L603.8 217.9 L615.5 212.2 L617.5 216.4 L605.8 222.0 L609.2 224.0Z M638.2 239.5 L651.3 230.3 L650.0 234.0 L662.2 230.8 L663.3 235.3 L651.2 238.5 L654.1 241.1Z M605.8 239.7 L621.1 234.8 L618.7 238.0 L630.9 238.6 L630.6 243.2 L618.5 242.6 L620.5 246.0Z M678.1 205.2 L676.4 221.1 L674.4 217.6 L667.3 232.0 L663.2 229.9 L670.3 215.6 L666.4 216.1Z M570.7 244.4 L584.6 236.4 L582.9 240.0 L598.0 237.4 L598.7 241.9 L583.7 244.5 L586.4 247.4Z M579.9 251.9 L589.7 239.2 L589.6 243.2 L597.1 238.5 L599.6 242.4 L592.0 247.1 L595.6 248.7Z M577.5 249.8 L579.0 233.8 L581.0 237.2 L585.2 228.5 L589.4 230.5 L585.1 239.2 L589.1 238.7Z M811.6 136.8 L802.8 123.5 L806.5 124.9 L804.1 114.8 L808.6 113.7 L811.0 123.8 L813.7 120.9Z M1004.8 233.2 L997.8 218.8 L1001.3 220.7 L1000.3 209.9 L1004.8 209.4 L1005.9 220.2 L1009.0 217.7Z M1063.3 281.8 L1073.0 294.6 L1069.2 293.4 L1072.1 303.3 L1067.7 304.6 L1064.8 294.7 L1062.2 297.8Z M1111.8 384.8 L1112.7 400.8 L1110.2 397.7 L1107.1 407.4 L1102.7 406.1 L1105.8 396.3 L1102.0 397.4Z M571.3 259.4 L566.0 274.5 L564.8 270.7 L559.4 277.2 L555.9 274.3 L561.3 267.8 L557.4 267.4Z M596.7 245.2 L594.2 261.0 L592.4 257.4 L588.8 263.7 L584.8 261.4 L588.4 255.1 L584.4 255.4Z M563.5 251.0 L565.1 266.9 L562.4 264.0 L559.2 276.0 L554.8 274.8 L558.0 262.8 L554.2 264.1Z M569.3 249.2 L584.3 255.0 L580.4 256.0 L586.3 261.2 L583.2 264.6 L577.4 259.5 L576.9 263.4Z M484.2 308.3 L487.6 324.0 L484.7 321.3 L482.5 336.7 L478.0 336.0 L480.1 320.7 L476.5 322.4Z M482.4 363.2 L475.4 348.8 L478.9 350.7 L477.9 339.9 L482.4 339.4 L483.5 350.3 L486.6 347.8Z M497.0 357.9 L481.0 357.9 L484.2 355.6 L467.8 349.4 L469.5 345.1 L485.8 351.3 L484.9 347.4Z M447.0 390.2 L449.7 374.5 L451.5 378.0 L457.0 368.5 L461.0 370.8 L455.4 380.4 L459.4 380.1Z M464.9 394.2 L456.6 380.5 L460.3 382.0 L458.0 370.1 L462.6 369.2 L464.8 381.2 L467.7 378.4Z M590.1 335.7 L575.2 329.9 L579.0 328.9 L571.7 322.4 L574.8 319.0 L582.1 325.5 L582.6 321.6Z M611.5 466.2 L598.8 456.4 L602.8 456.5 L598.1 448.9 L602.0 446.4 L606.7 454.1 L608.4 450.5Z M803.7 390.2 L803.2 406.2 L801.0 402.9 L797.2 412.2 L792.9 410.5 L796.7 401.2 L792.8 402.0Z M819.2 410.1 L805.0 417.4 L806.8 413.9 L796.3 415.1 L795.8 410.5 L806.2 409.3 L803.7 406.3Z M764.4 423.2 L772.5 437.0 L768.9 435.4 L770.6 445.4 L766.0 446.1 L764.3 436.2 L761.4 438.9Z M632.3 459.9 L638.3 445.0 L639.2 448.9 L644.2 443.5 L647.6 446.6 L642.6 452.0 L646.5 452.6Z M632.8 466.3 L648.4 462.7 L645.8 465.7 L644.6 465.5 L644.1 470.1 L645.2 470.2 L647.0 473.8Z M871.1 372.3 L865.6 387.4 L864.5 383.6 L859.2 389.8 L855.7 386.9 L861.0 380.6 L857.1 380.1Z M851.1 448.7 L866.6 452.8 L862.9 454.2 L869.7 459.0 L867.0 462.7 L860.3 457.9 L860.2 461.9Z M1106.5 433.6 L1099.7 419.1 L1103.2 421.0 L1102.2 410.2 L1106.8 409.9 L1107.7 420.7 L1110.8 418.2Z M1023.1 609.9 L1027.3 594.4 L1028.7 598.1 L1033.9 590.7 L1037.7 593.4 L1032.4 600.8 L1036.4 600.9Z M318.9 587.4 L320.2 603.4 L317.6 600.3 L314.7 610.6 L310.3 609.3 L313.2 599.1 L309.4 600.3Z M310.4 633.2 L305.9 617.8 L309.1 620.3 L309.6 613.1 L314.2 613.4 L313.6 620.6 L317.1 618.6Z M619.0 477.7 L632.2 486.9 L628.2 486.9 L633.1 494.0 L629.4 496.7 L624.4 489.6 L623.0 493.3Z M657.8 499.4 L642.3 503.6 L644.8 500.5 L633.8 499.4 L634.3 494.9 L645.3 495.9 L643.4 492.4Z M636.9 502.7 L650.6 511.0 L646.7 511.3 L651.9 517.9 L648.3 520.8 L643.1 514.2 L641.9 518.0Z M637.9 491.3 L644.3 476.6 L645.2 480.5 L640.4 485.5 L643.7 488.6 L648.5 483.7 L652.4 484.4Z M593.1 538.1 L602.5 525.1 L602.5 529.1 L609.7 524.2 L612.2 528.0 L605.0 532.9 L608.7 534.4Z M764.4 423.2 L772.5 437.0 L768.9 435.4 L770.6 445.4 L766.0 446.1 L764.3 436.2 L761.4 438.9Z M791.5 493.6 L787.2 478.2 L790.3 480.7 L791.2 470.1 L795.8 470.4 L794.9 481.0 L798.3 479.1Z M939.0 489.8 L938.0 505.8 L935.8 502.4 L931.8 511.3 L927.6 509.4 L931.7 500.5 L927.7 501.2Z M742.6 514.8 L749.6 529.2 L746.1 527.3 L747.1 538.1 L742.6 538.6 L741.5 527.8 L738.4 530.3Z M756.1 517.8 L754.4 533.7 L752.4 530.2 L747.9 539.4 L743.8 537.3 L748.3 528.2 L744.4 528.7Z M765.8 527.5 L755.9 540.0 L756.1 536.0 L747.8 541.0 L745.5 537.0 L753.7 532.1 L750.1 530.4Z M769.2 542.7 L753.7 546.6 L756.2 543.6 L746.4 542.5 L746.9 537.9 L756.7 539.0 L754.9 535.5Z M760.5 556.3 L746.1 549.3 L750.0 548.6 L744.9 543.2 L748.2 540.1 L753.4 545.4 L754.2 541.6Z M883.2 549.9 L898.4 545.0 L896.1 548.2 L906.5 548.6 L906.2 553.2 L895.9 552.7 L897.9 556.1Z M921.0 572.6 L908.4 562.6 L912.4 562.8 L907.0 553.8 L911.0 551.5 L916.4 560.5 L918.1 556.9Z M796.9 608.8 L782.0 602.9 L785.8 602.0 L780.1 596.8 L783.2 593.4 L788.9 598.6 L789.5 594.6Z M849.7 618.7 L836.2 610.1 L840.1 609.8 L835.0 603.0 L838.7 600.3 L843.8 607.1 L845.1 603.3Z M1070.3 627.8 L1063.2 642.2 L1062.6 638.3 L1056.8 643.7 L1053.7 640.4 L1059.4 634.9 L1055.5 634.1Z M981.2 706.3 L996.4 701.4 L994.1 704.6 L1004.5 705.0 L1004.2 709.6 L993.9 709.1 L995.9 712.5Z M932.4 732.4 L932.2 748.4 L929.9 745.1 L926.4 754.2 L922.1 752.5 L925.6 743.5 L921.7 744.3Z M946.6 759.0 L930.9 761.9 L933.6 759.1 L924.9 757.6 L925.6 753.0 L934.4 754.5 L932.8 750.9Z M926.4 779.8 L919.1 765.5 L922.7 767.3 L921.5 756.9 L926.1 756.4 L927.2 766.8 L930.3 764.3Z M701.0 656.8 L709.2 670.6 L705.6 669.0 L707.6 679.9 L703.0 680.8 L701.1 669.8 L698.2 672.6Z M715.7 703.8 L704.3 692.6 L708.3 693.2 L704.3 684.6 L708.5 682.7 L712.4 691.2 L714.5 687.9Z M779.3 663.8 L791.5 674.1 L787.6 673.8 L794.1 685.2 L790.1 687.5 L783.6 676.0 L781.8 679.6Z M790.5 660.8 L797.5 675.2 L794.0 673.3 L795.1 686.1 L790.6 686.6 L789.4 673.8 L786.3 676.2Z M803.3 661.8 L803.0 677.8 L800.8 674.5 L795.8 687.2 L791.5 685.5 L796.5 672.8 L792.6 673.7Z M818.6 695.3 L802.6 696.6 L805.7 694.0 L794.0 690.7 L795.3 686.3 L806.9 689.6 L805.7 685.8Z M810.3 706.7 L796.0 699.5 L799.9 698.9 L792.8 691.2 L796.2 688.1 L803.3 695.7 L804.2 691.9Z M799.5 713.2 L790.3 700.1 L794.1 701.4 L791.2 690.2 L795.7 689.1 L798.5 700.2 L801.2 697.3Z M786.8 713.8 L784.9 697.9 L787.5 700.8 L790.4 689.1 L794.8 690.2 L792.0 701.9 L795.7 700.5Z M776.4 706.9 L782.1 691.9 L783.1 695.7 L789.8 688.1 L793.3 691.2 L786.6 698.8 L790.5 699.3Z M768.4 697.4 L780.4 686.8 L779.5 690.7 L790.5 686.5 L792.2 690.8 L781.2 695.0 L784.4 697.3Z M894.5 685.9 L880.1 678.9 L884.0 678.2 L878.9 672.8 L882.2 669.7 L887.4 675.0 L888.2 671.2Z M898.4 763.6 L910.8 753.5 L909.8 757.3 L921.2 753.4 L922.7 757.7 L911.2 761.7 L914.4 764.1Z M734.7 756.4 L739.7 771.6 L736.5 769.3 L736.0 780.1 L731.4 779.8 L731.9 769.1 L728.5 771.1Z M614.6 761.8 L615.6 745.8 L617.7 749.2 L621.6 740.7 L625.8 742.6 L621.9 751.1 L625.8 750.4Z M683.8 671.7 L699.7 673.0 L696.3 675.1 L704.9 679.1 L703.0 683.3 L694.4 679.3 L695.0 683.2Z M692.0 701.3 L696.1 685.8 L697.5 689.5 L702.6 682.3 L706.3 685.0 L701.3 692.1 L705.3 692.2Z M374.8 776.2 L390.7 774.7 L387.7 777.3 L397.6 779.9 L396.3 784.4 L386.5 781.7 L387.8 785.5Z M412.4 801.7 L399.1 792.8 L403.1 792.6 L397.9 785.6 L401.7 782.9 L406.8 789.9 L408.2 786.2Z M528.8 906.2 L523.7 891.0 L526.9 893.3 L527.2 882.6 L531.8 882.7 L531.5 893.5 L534.9 891.4Z M932.8 853.3 L945.8 862.7 L941.9 862.7 L946.8 870.1 L943.0 872.6 L938.1 865.3 L936.5 868.9Z M324.0 380.9 L332.1 367.1 L332.5 371.0 L339.2 365.6 L342.1 369.1 L335.4 374.6 L339.2 375.8Z M642.6 204.1 L630.6 214.7 L631.5 210.9 L620.4 215.2 L618.7 210.9 L629.8 206.6 L626.6 204.3Z M660.2 226.9 L646.8 218.1 L650.8 217.9 L648.1 214.3 L651.8 211.6 L654.5 215.2 L655.8 211.5Z" fill="#e63ce0"/>
<path d="M697.7 178.9 L692.6 194.1 L691.4 190.3 L684.1 199.2 L680.6 196.3 L687.9 187.4 L683.9 187.0Z M737.9 179.3 L725.6 189.5 L726.6 185.7 L715.3 189.6 L713.8 185.3 L725.1 181.4 L721.9 179.0Z M700.7 217.1 L685.8 211.2 L689.6 210.3 L681.1 202.6 L684.2 199.2 L692.7 206.8 L693.3 202.9Z M915.4 221.5 L931.1 218.1 L928.4 221.0 L938.3 222.5 L937.6 227.0 L927.7 225.6 L929.4 229.2Z M811.0 241.8 L809.1 257.7 L807.2 254.2 L801.8 264.6 L797.7 262.5 L803.1 252.1 L799.2 252.5Z M1074.1 330.2 L1066.3 316.2 L1069.9 317.9 L1068.4 307.6 L1072.9 306.9 L1074.5 317.2 L1077.4 314.5Z M463.4 287.1 L478.9 291.3 L475.1 292.7 L485.0 299.8 L482.3 303.5 L472.5 296.4 L472.3 300.4Z M498.1 280.0 L495.4 295.8 L493.7 292.2 L487.8 302.3 L483.8 300.0 L489.7 289.9 L485.7 290.2Z M509.7 297.2 L496.3 305.9 L497.7 302.2 L487.1 304.5 L486.1 300.0 L496.7 297.7 L493.9 294.9Z M568.1 473.2 L560.4 459.2 L564.0 460.9 L563.0 454.0 L567.5 453.3 L568.5 460.2 L571.5 457.5Z M851.2 441.3 L861.4 429.0 L861.1 432.9 L868.8 428.5 L871.1 432.5 L863.4 436.9 L867.0 438.7Z M877.3 433.8 L892.8 438.0 L889.1 439.4 L896.7 444.9 L894.0 448.7 L886.4 443.1 L886.2 447.1Z M875.8 459.0 L886.5 447.1 L886.1 451.1 L894.3 446.8 L896.4 450.9 L888.2 455.2 L891.7 457.1Z M922.2 448.0 L907.2 453.6 L909.4 450.3 L898.6 450.3 L898.6 445.7 L909.4 445.7 L907.2 442.4Z M902.6 470.2 L893.5 457.0 L897.2 458.3 L895.2 450.2 L899.6 449.1 L901.7 457.2 L904.3 454.3Z M1076.7 515.8 L1074.1 531.6 L1072.4 528.0 L1067.5 536.5 L1063.5 534.2 L1068.4 525.7 L1064.4 526.0Z M1075.9 558.2 L1063.9 547.6 L1067.9 548.0 L1063.5 539.7 L1067.5 537.6 L1071.9 545.9 L1073.8 542.4Z M396.3 518.2 L387.5 531.6 L387.3 527.6 L380.4 532.6 L377.7 528.9 L384.6 523.9 L380.8 522.5Z M569.1 521.1 L564.1 536.4 L562.9 532.6 L557.7 539.2 L554.1 536.3 L559.3 529.7 L555.4 529.4Z M647.4 540.7 L662.5 535.3 L660.2 538.5 L670.4 538.7 L670.3 543.3 L660.2 543.1 L662.3 546.5Z M681.5 563.2 L670.5 551.6 L674.4 552.4 L670.6 543.6 L674.8 541.7 L678.6 550.6 L680.8 547.2Z M650.6 560.6 L635.3 565.2 L637.7 562.1 L627.5 561.4 L627.8 556.8 L638.0 557.5 L636.0 554.0Z M668.2 603.0 L657.6 615.0 L658.0 611.0 L650.1 615.2 L648.0 611.1 L655.8 607.0 L652.4 605.1Z M624.8 622.0 L637.1 611.7 L636.1 615.5 L645.0 612.4 L646.5 616.8 L637.6 619.9 L640.8 622.3Z M722.9 594.8 L723.0 610.8 L720.7 607.6 L717.4 616.7 L713.0 615.2 L716.4 606.0 L712.5 607.0Z M590.8 650.3 L575.0 647.7 L578.6 645.9 L570.9 641.5 L573.2 637.5 L580.9 641.9 L580.6 638.0Z M882.4 506.7 L867.9 499.9 L871.8 499.2 L867.0 494.3 L870.3 491.0 L875.1 495.9 L875.9 492.1Z M882.2 514.8 L870.5 525.7 L871.3 521.8 L862.5 525.4 L860.8 521.2 L869.5 517.6 L866.2 515.4Z M734.1 560.6 L736.1 544.8 L738.0 548.2 L742.1 540.6 L746.2 542.7 L742.1 550.4 L746.0 550.0Z M909.3 570.1 L918.6 557.0 L918.6 561.0 L927.1 555.2 L929.6 559.0 L921.2 564.8 L924.9 566.3Z M721.3 662.7 L716.2 677.9 L715.0 674.1 L708.7 681.8 L705.2 678.9 L711.4 671.2 L707.5 670.8Z M625.3 658.8 L626.3 674.8 L623.8 671.7 L620.7 682.0 L616.3 680.7 L619.4 670.4 L615.6 671.5Z M651.0 671.8 L656.6 686.8 L653.3 684.6 L653.3 695.4 L648.7 695.4 L648.7 684.6 L645.4 686.8Z M341.4 704.6 L356.9 700.5 L354.4 703.5 L364.6 704.5 L364.1 709.1 L353.9 708.1 L355.8 711.6Z M390.2 712.6 L374.3 714.7 L377.2 712.0 L367.1 709.6 L368.2 705.1 L378.3 707.5 L376.9 703.8Z M491.8 699.0 L481.8 711.5 L482.0 707.5 L473.8 712.4 L471.5 708.4 L479.7 703.6 L476.1 701.9Z M718.4 912.6 L733.0 906.1 L731.0 909.5 L741.8 908.8 L742.1 913.4 L731.3 914.1 L733.7 917.2Z M767.8 906.2 L754.2 914.6 L755.7 910.9 L745.7 912.9 L744.8 908.4 L754.8 906.4 L752.0 903.6Z M970.6 610.7 L955.4 615.6 L957.7 612.4 L947.5 612.0 L947.8 607.4 L957.9 607.8 L955.9 604.4Z" fill="#8a8a8a"/>
<path d="M932.8 163.9 L918.1 170.1 L920.1 166.7 L909.4 167.2 L909.1 162.6 L919.9 162.1 L917.6 158.9Z M794.2 444.8 L799.4 459.9 L796.2 457.7 L795.9 467.0 L791.3 466.9 L791.6 457.5 L788.2 459.6Z M387.7 422.8 L388.5 438.8 L386.0 435.7 L382.7 446.1 L378.3 444.6 L381.7 434.3 L377.8 435.4Z M357.4 437.1 L373.4 438.0 L370.0 440.1 L379.3 444.2 L377.4 448.4 L368.2 444.4 L368.9 448.3Z M401.2 458.8 L385.4 456.4 L388.9 454.6 L380.5 449.9 L382.8 445.9 L391.2 450.6 L390.8 446.6Z M369.0 468.2 L370.9 452.3 L372.8 455.8 L377.1 447.6 L381.2 449.7 L376.9 457.9 L380.9 457.5Z M393.1 604.4 L405.7 614.3 L401.7 614.1 L407.0 622.8 L403.0 625.1 L397.8 616.5 L396.1 620.1Z M422.3 609.3 L415.6 623.9 L414.9 620.0 L409.3 625.6 L406.0 622.3 L411.6 616.7 L407.7 616.0Z M381.2 630.8 L394.7 622.2 L393.3 625.9 L403.9 623.7 L404.8 628.2 L394.2 630.4 L397.0 633.2Z M428.2 633.9 L412.2 633.9 L415.4 631.6 L406.8 628.4 L408.5 624.1 L417.0 627.2 L416.1 623.4Z M478.9 606.8 L467.8 595.3 L471.7 596.0 L467.6 586.6 L471.8 584.7 L475.9 594.2 L478.1 590.8Z M1047.2 799.5 L1031.4 797.3 L1034.9 795.4 L1026.6 790.9 L1028.7 786.9 L1037.1 791.4 L1036.7 787.4Z M984.8 825.4 L997.7 834.8 L993.7 834.8 L998.8 842.7 L995.0 845.2 L989.8 837.3 L988.3 841.0Z M878.2 811.3 L863.9 804.2 L867.8 803.5 L862.5 797.8 L865.8 794.7 L871.2 800.4 L872.1 796.5Z M840.1 840.8 L848.5 854.4 L844.9 852.9 L846.9 863.3 L842.4 864.2 L840.4 853.8 L837.6 856.6Z M531.5 787.2 L522.4 774.1 L526.1 775.4 L523.6 765.6 L528.1 764.5 L530.6 774.2 L533.2 771.3Z M403.9 651.2 L399.5 635.8 L402.6 638.3 L403.6 627.1 L408.2 627.4 L407.2 638.6 L410.7 636.7Z" fill="#1fe3ee"/>
</g>
<g filter="url(#sh)">
<path d="M417.0 163.7h11.0v11.0h-11.0Z M444.8 177.5h11.0v11.0h-11.0Z M349.8 256.2h11.0v11.0h-11.0Z M453.4 283.7a5.3 5.3 0 1 0 10.6 0a5.3 5.3 0 1 0 -10.6 0Z M439.8 316.5h11.0v11.0h-11.0Z M702.7 140.4a5.3 5.3 0 1 0 10.6 0a5.3 5.3 0 1 0 -10.6 0Z M641.1 143.4a5.3 5.3 0 1 0 10.6 0a5.3 5.3 0 1 0 -10.6 0Z M537.7 183.6a5.3 5.3 0 1 0 10.6 0a5.3 5.3 0 1 0 -10.6 0Z M612.7 189.0a5.3 5.3 0 1 0 10.6 0a5.3 5.3 0 1 0 -10.6 0Z M707.7 188.0a5.3 5.3 0 1 0 10.6 0a5.3 5.3 0 1 0 -10.6 0Z M642.7 202.0a5.3 5.3 0 1 0 10.6 0a5.3 5.3 0 1 0 -10.6 0Z M643.7 211.6a5.3 5.3 0 1 0 10.6 0a5.3 5.3 0 1 0 -10.6 0Z M707.7 206.0a5.3 5.3 0 1 0 10.6 0a5.3 5.3 0 1 0 -10.6 0Z M699.7 221.0a5.3 5.3 0 1 0 10.6 0a5.3 5.3 0 1 0 -10.6 0Z M582.7 228.0a5.3 5.3 0 1 0 10.6 0a5.3 5.3 0 1 0 -10.6 0Z M626.9 235.5h11.0v11.0h-11.0Z M643.5 251.5h11.0v11.0h-11.0Z M774.1 96.0a5.3 5.3 0 1 0 10.6 0a5.3 5.3 0 1 0 -10.6 0Z M902.1 159.5h11.0v11.0h-11.0Z M805.5 198.5h11.0v11.0h-11.0Z M904.1 215.1h11.0v11.0h-11.0Z M800.3 295.0a5.3 5.3 0 1 0 10.6 0a5.3 5.3 0 1 0 -10.6 0Z M895.5 271.5h11.0v11.0h-11.0Z M996.9 202.5h11.0v11.0h-11.0Z M956.9 329.9h11.0v11.0h-11.0Z M1028.5 376.1h11.0v11.0h-11.0Z M1098.9 402.9h11.0v11.0h-11.0Z M580.7 264.0a5.3 5.3 0 1 0 10.6 0a5.3 5.3 0 1 0 -10.6 0Z M551.3 277.0a5.3 5.3 0 1 0 10.6 0a5.3 5.3 0 1 0 -10.6 0Z M495.7 275.0a5.3 5.3 0 1 0 10.6 0a5.3 5.3 0 1 0 -10.6 0Z M479.7 302.6a5.3 5.3 0 1 0 10.6 0a5.3 5.3 0 1 0 -10.6 0Z M474.7 338.0a5.3 5.3 0 1 0 10.6 0a5.3 5.3 0 1 0 -10.6 0Z M431.5 350.5h11.0v11.0h-11.0Z M525.1 343.4a5.3 5.3 0 1 0 10.6 0a5.3 5.3 0 1 0 -10.6 0Z M497.1 360.0a5.3 5.3 0 1 0 10.6 0a5.3 5.3 0 1 0 -10.6 0Z M529.7 361.4a5.3 5.3 0 1 0 10.6 0a5.3 5.3 0 1 0 -10.6 0Z M477.7 369.0a5.3 5.3 0 1 0 10.6 0a5.3 5.3 0 1 0 -10.6 0Z M490.3 391.4a5.3 5.3 0 1 0 10.6 0a5.3 5.3 0 1 0 -10.6 0Z M438.1 390.5h11.0v11.0h-11.0Z M566.7 319.6a5.3 5.3 0 1 0 10.6 0a5.3 5.3 0 1 0 -10.6 0Z M620.5 335.5h11.0v11.0h-11.0Z M613.9 366.1h11.0v11.0h-11.0Z M401.5 456.5h11.0v11.0h-11.0Z M516.9 467.5h11.0v11.0h-11.0Z M559.5 446.5h11.0v11.0h-11.0Z M563.5 473.5h11.0v11.0h-11.0Z M609.5 466.5h11.0v11.0h-11.0Z M621.5 460.1h11.0v11.0h-11.0Z M642.7 285.0a5.3 5.3 0 1 0 10.6 0a5.3 5.3 0 1 0 -10.6 0Z M698.3 284.4a5.3 5.3 0 1 0 10.6 0a5.3 5.3 0 1 0 -10.6 0Z M658.1 298.4a5.3 5.3 0 1 0 10.6 0a5.3 5.3 0 1 0 -10.6 0Z M702.5 321.5h11.0v11.0h-11.0Z M644.1 387.0a5.3 5.3 0 1 0 10.6 0a5.3 5.3 0 1 0 -10.6 0Z M717.9 362.5h11.0v11.0h-11.0Z M818.5 357.5h11.0v11.0h-11.0Z M788.9 407.5h11.0v11.0h-11.0Z M819.5 403.9h11.0v11.0h-11.0Z M757.9 411.9h11.0v11.0h-11.0Z M763.1 441.9h11.0v11.0h-11.0Z M788.9 433.5h11.0v11.0h-11.0Z M813.9 447.5h11.0v11.0h-11.0Z M641.9 437.9h11.0v11.0h-11.0Z M640.5 462.5h11.0v11.0h-11.0Z M903.9 321.9h11.0v11.0h-11.0Z M870.5 361.1h11.0v11.0h-11.0Z M850.5 384.5h11.0v11.0h-11.0Z M888.5 388.1h11.0v11.0h-11.0Z M942.5 402.1h11.0v11.0h-11.0Z M905.5 415.1h11.0v11.0h-11.0Z M866.1 424.1h11.0v11.0h-11.0Z M891.5 442.5h11.0v11.0h-11.0Z M1040.1 423.5h11.0v11.0h-11.0Z M1017.5 471.5h11.0v11.0h-11.0Z M1101.5 433.9h11.0v11.0h-11.0Z M966.1 506.9h11.0v11.0h-11.0Z M1074.5 504.5h11.0v11.0h-11.0Z M1134.1 540.9h11.0v11.0h-11.0Z M998.9 541.5h11.0v11.0h-11.0Z M961.9 557.5h11.0v11.0h-11.0Z M1031.5 584.9h11.0v11.0h-11.0Z M1121.5 597.5h11.0v11.0h-11.0Z M1070.5 616.9h11.0v11.0h-11.0Z M346.1 429.1h11.0v11.0h-11.0Z M320.9 525.5h11.0v11.0h-11.0Z M478.5 507.9h11.0v11.0h-11.0Z M407.9 551.9h11.0v11.0h-11.0Z M478.1 542.5h11.0v11.0h-11.0Z M306.5 606.1h11.0v11.0h-11.0Z M304.5 633.5h11.0v11.0h-11.0Z M384.1 593.1h11.0v11.0h-11.0Z M400.5 620.1h11.0v11.0h-11.0Z M369.9 626.5h11.0v11.0h-11.0Z M475.9 607.1h11.0v11.0h-11.0Z M512.5 591.5h11.0v11.0h-11.0Z M626.9 491.5h11.0v11.0h-11.0Z M658.1 494.5h11.0v11.0h-11.0Z M645.9 515.5h11.0v11.0h-11.0Z M731.5 475.5h11.0v11.0h-11.0Z M535.5 496.1h11.0v11.0h-11.0Z M549.1 533.9h11.0v11.0h-11.0Z M607.1 519.5h11.0v11.0h-11.0Z M581.9 536.5h11.0v11.0h-11.0Z M636.1 535.1h11.0v11.0h-11.0Z M666.5 535.5h11.0v11.0h-11.0Z M688.9 542.5h11.0v11.0h-11.0Z M720.5 509.5h11.0v11.0h-11.0Z M712.5 549.5h11.0v11.0h-11.0Z M620.5 553.5h11.0v11.0h-11.0Z M650.9 555.5h11.0v11.0h-11.0Z M678.5 563.5h11.0v11.0h-11.0Z M564.5 568.9h11.0v11.0h-11.0Z M568.9 602.5h11.0v11.0h-11.0Z M540.1 612.1h11.0v11.0h-11.0Z M650.1 579.5h11.0v11.0h-11.0Z M641.9 608.5h11.0v11.0h-11.0Z M613.5 618.5h11.0v11.0h-11.0Z M694.5 582.5h11.0v11.0h-11.0Z M719.5 583.5h11.0v11.0h-11.0Z M709.1 612.1h11.0v11.0h-11.0Z M621.5 647.5h11.0v11.0h-11.0Z M694.5 645.5h11.0v11.0h-11.0Z M720.5 651.5h11.0v11.0h-11.0Z M815.1 477.5h11.0v11.0h-11.0Z M785.5 493.9h11.0v11.0h-11.0Z M736.5 503.5h11.0v11.0h-11.0Z M753.5 506.5h11.0v11.0h-11.0Z M766.1 518.5h11.0v11.0h-11.0Z M769.5 537.9h11.0v11.0h-11.0Z M807.9 514.5h11.0v11.0h-11.0Z M826.5 529.5h11.0v11.0h-11.0Z M871.9 544.1h11.0v11.0h-11.0Z M924.5 550.5h11.0v11.0h-11.0Z M918.9 572.9h11.0v11.0h-11.0Z M863.5 583.1h11.0v11.0h-11.0Z M804.1 580.9h11.0v11.0h-11.0Z M774.5 588.1h11.0v11.0h-11.0Z M797.1 608.5h11.0v11.0h-11.0Z M830.1 594.5h11.0v11.0h-11.0Z M848.5 618.9h11.0v11.0h-11.0Z M876.1 613.1h11.0v11.0h-11.0Z M940.5 604.1h11.0v11.0h-11.0Z M939.5 638.5h11.0v11.0h-11.0Z M800.1 650.5h11.0v11.0h-11.0Z M784.5 649.5h11.0v11.0h-11.0Z M770.5 652.5h11.0v11.0h-11.0Z M1048.1 638.1h11.0v11.0h-11.0Z M951.5 670.9h11.0v11.0h-11.0Z M1000.9 732.9h11.0v11.0h-11.0Z M1082.5 678.1h11.0v11.0h-11.0Z M1105.9 698.1h11.0v11.0h-11.0Z M1077.5 708.5h11.0v11.0h-11.0Z M975.5 814.1h11.0v11.0h-11.0Z M700.1 676.5h11.0v11.0h-11.0Z M712.9 704.1h11.0v11.0h-11.0Z M787.5 682.5h11.0v11.0h-11.0Z M754.9 679.5h11.0v11.0h-11.0Z M818.9 691.5h11.0v11.0h-11.0Z M765.9 707.1h11.0v11.0h-11.0Z M779.9 714.1h11.0v11.0h-11.0Z M795.5 713.5h11.0v11.0h-11.0Z M810.1 706.9h11.0v11.0h-11.0Z M873.5 664.1h11.0v11.0h-11.0Z M894.5 686.1h11.0v11.0h-11.0Z M887.1 760.1h11.0v11.0h-11.0Z M729.5 745.1h11.0v11.0h-11.0Z M787.5 791.9h11.0v11.0h-11.0Z M857.1 789.1h11.0v11.0h-11.0Z M718.5 819.5h11.0v11.0h-11.0Z M789.1 844.5h11.0v11.0h-11.0Z M839.5 859.9h11.0v11.0h-11.0Z M547.5 660.5h11.0v11.0h-11.0Z M612.5 677.5h11.0v11.0h-11.0Z M645.5 691.5h11.0v11.0h-11.0Z M672.5 663.5h11.0v11.0h-11.0Z M682.5 701.5h11.0v11.0h-11.0Z M518.9 676.1h11.0v11.0h-11.0Z M485.5 729.1h11.0v11.0h-11.0Z M538.5 716.1h11.0v11.0h-11.0Z M568.1 723.5h11.0v11.0h-11.0Z M594.5 708.5h11.0v11.0h-11.0Z M651.5 722.5h11.0v11.0h-11.0Z M563.5 823.5h11.0v11.0h-11.0Z M642.1 782.9h11.0v11.0h-11.0Z M621.1 805.5h11.0v11.0h-11.0Z M688.1 824.1h11.0v11.0h-11.0Z M685.9 855.1h11.0v11.0h-11.0Z M520.1 844.9h11.0v11.0h-11.0Z M397.9 651.5h11.0v11.0h-11.0Z M330.1 698.5h11.0v11.0h-11.0Z M360.5 701.5h11.0v11.0h-11.0Z M448.5 680.1h11.0v11.0h-11.0Z M465.5 705.9h11.0v11.0h-11.0Z M363.5 769.1h11.0v11.0h-11.0Z M459.5 773.9h11.0v11.0h-11.0Z M523.1 906.5h11.0v11.0h-11.0Z M606.5 883.5h11.0v11.0h-11.0Z M741.5 935.9h11.0v11.0h-11.0Z M824.5 913.5h11.0v11.0h-11.0Z M665.1 950.1h11.0v11.0h-11.0Z M883.5 885.9h11.0v11.0h-11.0Z M336.8 360.5h11.0v11.0h-11.0Z M312.8 380.1h11.0v11.0h-11.0Z" fill="#c2463c" stroke="#202040" stroke-opacity="0.45" stroke-width="0.8"/>
<path d="M470.3 161.2h11.0v11.0h-11.0Z M432.0 205.8h11.0v11.0h-11.0Z M357.8 286.2h11.0v11.0h-11.0Z M472.7 270.8a5.3 5.3 0 1 0 10.6 0a5.3 5.3 0 1 0 -10.6 0Z M458.5 309.2h11.0v11.0h-11.0Z M673.7 132.6a5.3 5.3 0 1 0 10.6 0a5.3 5.3 0 1 0 -10.6 0Z M680.3 164.0a5.3 5.3 0 1 0 10.6 0a5.3 5.3 0 1 0 -10.6 0Z M658.3 170.4a5.3 5.3 0 1 0 10.6 0a5.3 5.3 0 1 0 -10.6 0Z M696.1 174.4a5.3 5.3 0 1 0 10.6 0a5.3 5.3 0 1 0 -10.6 0Z M738.1 177.4a5.3 5.3 0 1 0 10.6 0a5.3 5.3 0 1 0 -10.6 0Z M628.7 178.6a5.3 5.3 0 1 0 10.6 0a5.3 5.3 0 1 0 -10.6 0Z M675.5 193.9h11.0v11.0h-11.0Z M661.1 196.1h11.0v11.0h-11.0Z M559.7 206.0a5.3 5.3 0 1 0 10.6 0a5.3 5.3 0 1 0 -10.6 0Z M612.7 213.6a5.3 5.3 0 1 0 10.6 0a5.3 5.3 0 1 0 -10.6 0Z M683.3 230.4a5.3 5.3 0 1 0 10.6 0a5.3 5.3 0 1 0 -10.6 0Z M658.9 227.1h11.0v11.0h-11.0Z M594.5 233.9h11.0v11.0h-11.0Z M559.7 245.4a5.3 5.3 0 1 0 10.6 0a5.3 5.3 0 1 0 -10.6 0Z M569.7 255.0a5.3 5.3 0 1 0 10.6 0a5.3 5.3 0 1 0 -10.6 0Z M701.7 259.0a5.3 5.3 0 1 0 10.6 0a5.3 5.3 0 1 0 -10.6 0Z M828.3 98.6a5.3 5.3 0 1 0 10.6 0a5.3 5.3 0 1 0 -10.6 0Z M800.5 107.1h11.0v11.0h-11.0Z M807.5 137.1h11.0v11.0h-11.0Z M933.1 158.1h11.0v11.0h-11.0Z M835.1 213.9h11.0v11.0h-11.0Z M808.5 230.5h11.0v11.0h-11.0Z M934.1 219.5h11.0v11.0h-11.0Z M782.1 235.4a5.3 5.3 0 1 0 10.6 0a5.3 5.3 0 1 0 -10.6 0Z M764.7 252.6a5.3 5.3 0 1 0 10.6 0a5.3 5.3 0 1 0 -10.6 0Z M824.3 258.6a5.3 5.3 0 1 0 10.6 0a5.3 5.3 0 1 0 -10.6 0Z M793.7 265.0a5.3 5.3 0 1 0 10.6 0a5.3 5.3 0 1 0 -10.6 0Z M764.3 276.4a5.3 5.3 0 1 0 10.6 0a5.3 5.3 0 1 0 -10.6 0Z M820.3 281.4a5.3 5.3 0 1 0 10.6 0a5.3 5.3 0 1 0 -10.6 0Z M917.5 292.5h11.0v11.0h-11.0Z M999.9 233.5h11.0v11.0h-11.0Z M1056.1 270.5h11.0v11.0h-11.0Z M1064.9 300.1h11.0v11.0h-11.0Z M1069.5 330.5h11.0v11.0h-11.0Z M981.9 315.5h11.0v11.0h-11.0Z M998.9 384.5h11.0v11.0h-11.0Z M1108.1 373.5h11.0v11.0h-11.0Z M510.1 296.0a5.3 5.3 0 1 0 10.6 0a5.3 5.3 0 1 0 -10.6 0Z M461.5 341.1h11.0v11.0h-11.0Z M508.3 330.0a5.3 5.3 0 1 0 10.6 0a5.3 5.3 0 1 0 -10.6 0Z M454.5 362.5h11.0v11.0h-11.0Z M423.9 372.5h11.0v11.0h-11.0Z M523.7 378.0a5.3 5.3 0 1 0 10.6 0a5.3 5.3 0 1 0 -10.6 0Z M509.7 389.0a5.3 5.3 0 1 0 10.6 0a5.3 5.3 0 1 0 -10.6 0Z M460.5 394.5h11.0v11.0h-11.0Z M589.1 339.6a5.3 5.3 0 1 0 10.6 0a5.3 5.3 0 1 0 -10.6 0Z M583.5 372.5h11.0v11.0h-11.0Z M615.3 388.0a5.3 5.3 0 1 0 10.6 0a5.3 5.3 0 1 0 -10.6 0Z M486.9 470.5h11.0v11.0h-11.0Z M670.5 263.5h11.0v11.0h-11.0Z M681.5 296.9h11.0v11.0h-11.0Z M711.1 306.5h11.0v11.0h-11.0Z M661.5 321.9h11.0v11.0h-11.0Z M686.9 327.5h11.0v11.0h-11.0Z M642.7 370.0a5.3 5.3 0 1 0 10.6 0a5.3 5.3 0 1 0 -10.6 0Z M687.9 367.1h11.0v11.0h-11.0Z M743.5 345.5h11.0v11.0h-11.0Z M788.1 463.1h11.0v11.0h-11.0Z M707.5 457.9h11.0v11.0h-11.0Z M696.5 427.9h11.0v11.0h-11.0Z M716.9 427.5h11.0v11.0h-11.0Z M846.1 344.1h11.0v11.0h-11.0Z M909.5 365.5h11.0v11.0h-11.0Z M949.5 372.1h11.0v11.0h-11.0Z M839.9 439.1h11.0v11.0h-11.0Z M864.5 456.5h11.0v11.0h-11.0Z M898.5 470.5h11.0v11.0h-11.0Z M1011.1 433.5h11.0v11.0h-11.0Z M971.9 461.1h11.0v11.0h-11.0Z M1078.5 454.9h11.0v11.0h-11.0Z M1128.5 448.1h11.0v11.0h-11.0Z M989.5 486.5h11.0v11.0h-11.0Z M1011.5 507.9h11.0v11.0h-11.0Z M1059.1 531.5h11.0v11.0h-11.0Z M1073.5 558.5h11.0v11.0h-11.0Z M1143.5 511.5h11.0v11.0h-11.0Z M989.5 570.9h11.0v11.0h-11.0Z M1013.5 610.1h11.0v11.0h-11.0Z M970.9 605.5h11.0v11.0h-11.0Z M1136.1 624.5h11.0v11.0h-11.0Z M384.1 411.5h11.0v11.0h-11.0Z M374.5 441.5h11.0v11.0h-11.0Z M360.5 468.5h11.0v11.0h-11.0Z M301.5 501.5h11.0v11.0h-11.0Z M396.5 508.5h11.0v11.0h-11.0Z M371.9 526.5h11.0v11.0h-11.0Z M448.1 505.9h11.0v11.0h-11.0Z M437.5 544.5h11.0v11.0h-11.0Z M505.5 556.1h11.0v11.0h-11.0Z M513.5 520.1h11.0v11.0h-11.0Z M315.1 576.1h11.0v11.0h-11.0Z M422.5 598.1h11.0v11.0h-11.0Z M428.5 630.5h11.0v11.0h-11.0Z M463.5 578.5h11.0v11.0h-11.0Z M509.5 632.5h11.0v11.0h-11.0Z M598.5 483.5h11.0v11.0h-11.0Z M638.1 479.9h11.0v11.0h-11.0Z M675.5 511.5h11.0v11.0h-11.0Z M716.9 486.1h11.0v11.0h-11.0Z M568.1 509.9h11.0v11.0h-11.0Z M695.5 512.5h11.0v11.0h-11.0Z M712.5 521.1h11.0v11.0h-11.0Z M725.5 560.9h11.0v11.0h-11.0Z M534.5 570.1h11.0v11.0h-11.0Z M594.1 562.9h11.0v11.0h-11.0Z M597.5 593.1h11.0v11.0h-11.0Z M624.1 584.1h11.0v11.0h-11.0Z M685.5 611.5h11.0v11.0h-11.0Z M732.5 626.1h11.0v11.0h-11.0Z M564.9 633.1h11.0v11.0h-11.0Z M591.1 648.1h11.0v11.0h-11.0Z M761.9 477.9h11.0v11.0h-11.0Z M834.5 495.5h11.0v11.0h-11.0Z M882.5 506.9h11.0v11.0h-11.0Z M936.1 478.5h11.0v11.0h-11.0Z M923.5 506.5h11.0v11.0h-11.0Z M739.5 534.5h11.0v11.0h-11.0Z M760.5 556.5h11.0v11.0h-11.0Z M743.5 564.1h11.0v11.0h-11.0Z M795.5 531.5h11.0v11.0h-11.0Z M898.1 568.5h11.0v11.0h-11.0Z M841.9 561.9h11.0v11.0h-11.0Z M786.5 561.1h11.0v11.0h-11.0Z M759.5 614.5h11.0v11.0h-11.0Z M904.9 621.1h11.0v11.0h-11.0Z M915.5 658.1h11.0v11.0h-11.0Z M975.5 651.1h11.0v11.0h-11.0Z M1014.1 674.1h11.0v11.0h-11.0Z M1000.5 701.9h11.0v11.0h-11.0Z M969.9 700.5h11.0v11.0h-11.0Z M1060.1 734.5h11.0v11.0h-11.0Z M929.1 721.1h11.0v11.0h-11.0Z M918.1 749.5h11.0v11.0h-11.0Z M946.9 754.5h11.0v11.0h-11.0Z M921.5 780.1h11.0v11.0h-11.0Z M1020.5 782.5h11.0v11.0h-11.0Z M1047.5 797.1h11.0v11.0h-11.0Z M992.5 840.1h11.0v11.0h-11.0Z M923.5 842.1h11.0v11.0h-11.0Z M759.5 665.1h11.0v11.0h-11.0Z M811.5 661.5h11.0v11.0h-11.0Z M819.5 674.5h11.0v11.0h-11.0Z M757.1 694.1h11.0v11.0h-11.0Z M849.1 700.1h11.0v11.0h-11.0Z M826.1 733.1h11.0v11.0h-11.0Z M893.5 728.1h11.0v11.0h-11.0Z M696.1 747.5h11.0v11.0h-11.0Z M728.1 776.1h11.0v11.0h-11.0Z M816.1 779.9h11.0v11.0h-11.0Z M878.1 811.5h11.0v11.0h-11.0Z M763.1 828.1h11.0v11.0h-11.0Z M833.5 829.5h11.0v11.0h-11.0Z M735.5 871.5h11.0v11.0h-11.0Z M480.9 644.5h11.0v11.0h-11.0Z M568.5 682.5h11.0v11.0h-11.0Z M492.1 690.1h11.0v11.0h-11.0Z M565.1 754.1h11.0v11.0h-11.0Z M618.9 734.5h11.0v11.0h-11.0Z M606.5 762.1h11.0v11.0h-11.0Z M663.5 750.5h11.0v11.0h-11.0Z M519.9 757.9h11.0v11.0h-11.0Z M527.5 787.5h11.0v11.0h-11.0Z M481.5 795.5h11.0v11.0h-11.0Z M576.9 796.1h11.0v11.0h-11.0Z M524.1 875.5h11.0v11.0h-11.0Z M390.5 708.5h11.0v11.0h-11.0Z M440.5 723.9h11.0v11.0h-11.0Z M393.1 777.1h11.0v11.0h-11.0Z M411.1 801.9h11.0v11.0h-11.0Z M462.9 844.5h11.0v11.0h-11.0Z M636.9 885.9h11.0v11.0h-11.0Z M585.5 905.5h11.0v11.0h-11.0Z M634.5 951.1h11.0v11.0h-11.0Z M738.1 905.5h11.0v11.0h-11.0Z M707.1 907.5h11.0v11.0h-11.0Z M768.1 899.5h11.0v11.0h-11.0Z M818.9 944.1h11.0v11.0h-11.0Z M940.5 867.5h11.0v11.0h-11.0Z M895.1 914.5h11.0v11.0h-11.0Z" fill="#5f5fae" stroke="#202040" stroke-opacity="0.45" stroke-width="0.8"/>
<path d="M430.3 331.2h11.0v11.0h-11.0Z" fill="#8e8e8e" stroke="#202040" stroke-opacity="0.45" stroke-width="0.8"/>
<path d="M778.1 293.0a5.3 5.3 0 1 0 10.6 0a5.3 5.3 0 1 0 -10.6 0Z M939.9 272.5h11.0v11.0h-11.0Z M990.5 285.9h11.0v11.0h-11.0Z M1007.5 332.9h11.0v11.0h-11.0Z M978.9 407.5h11.0v11.0h-11.0Z M456.1 468.5h11.0v11.0h-11.0Z M593.5 440.5h11.0v11.0h-11.0Z M800.5 378.9h11.0v11.0h-11.0Z M680.9 441.1h11.0v11.0h-11.0Z M732.5 438.5h11.0v11.0h-11.0Z M676.5 460.5h11.0v11.0h-11.0Z M738.1 457.9h11.0v11.0h-11.0Z M922.5 442.5h11.0v11.0h-11.0Z M290.5 472.5h11.0v11.0h-11.0Z M684.5 478.5h11.0v11.0h-11.0Z M699.5 487.5h11.0v11.0h-11.0Z M708.9 534.1h11.0v11.0h-11.0Z M668.5 594.5h11.0v11.0h-11.0Z M661.5 629.9h11.0v11.0h-11.0Z M861.5 485.5h11.0v11.0h-11.0Z M854.5 518.5h11.0v11.0h-11.0Z M812.5 545.9h11.0v11.0h-11.0Z M902.5 545.5h11.0v11.0h-11.0Z M744.5 591.9h11.0v11.0h-11.0Z M830.5 645.1h11.0v11.0h-11.0Z M766.1 769.9h11.0v11.0h-11.0Z M645.5 660.5h11.0v11.0h-11.0Z M686.1 793.5h11.0v11.0h-11.0Z M657.5 828.9h11.0v11.0h-11.0Z M600.5 852.5h11.0v11.0h-11.0Z M441.1 866.1h11.0v11.0h-11.0Z" fill="#e2bb2c" stroke="#202040" stroke-opacity="0.45" stroke-width="0.8"/>
</g>
<text x="549" y="103.8" font-size="23" text-anchor="start" fill="#000" textLength="135" lengthAdjust="spacingAndGlyphs">Oise Cluster</text>
</svg></body></html>
